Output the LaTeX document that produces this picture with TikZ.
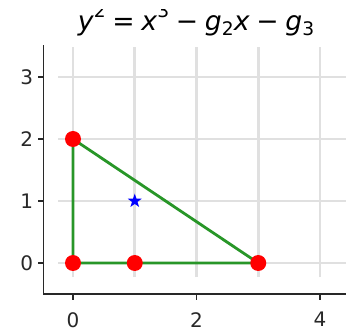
\documentclass[tikz,border=0pt]{standalone}
\usepackage{fontspec}
\setmainfont{DejaVu Sans}
\usetikzlibrary{shapes.geometric}
\definecolor{gridc}{RGB}{224,224,224}
\definecolor{spinec}{RGB}{40,40,40}
\definecolor{trig}{RGB}{40,150,40}
\newcommand{\opsp}{\hspace{0.25em}}
\newcommand{\supr}[1]{\raisebox{0.47em}{\fontsize{14}{14}\selectfont #1}}
\newcommand{\subr}[1]{\raisebox{-0.17em}{\fontsize{14}{14}\selectfont #1}}
\tikzset{
  gridline/.style={draw=gridc, line width=2.2pt},
  spine/.style={draw=spinec, line width=1pt},
  tickmark/.style={draw=spinec, line width=0.9pt},
  ticklabel/.style={font=\fontsize{15}{15}\selectfont, text=spinec, inner sep=0pt},
  reddot/.style={circle, fill=red, minimum size=12pt, inner sep=0pt},
  bluestar/.style={star, star points=5, star point ratio=2.5, fill=blue, minimum size=11pt, inner sep=0pt},
  edge/.style={draw=trig, line width=2.1pt}
}
\begin{document}
\begin{tikzpicture}[x=0.75pt, y=-0.75pt]
\useasboundingbox (0,0) rectangle (346,334);
% title (superscripts cut at the top, as in the reference)
\begin{scope}
  \clip (0,10) rectangle (346,50);
  \node[font=\fontsize{20}{20}\selectfont, anchor=base, inner sep=0pt] (title) at (196,30.5)
    {\textit{y}\supr{2}\opsp=\opsp\textit{x}\supr{3}\opsp−\opsp\textit{g}\subr{2}\textit{x}\opsp−\opsp\textit{g}\subr{3}};
\end{scope}
\begin{scope}[shift={(73,263)}, x=46.3125pt, y=46.5pt]
  % grid
  \foreach \i in {0,...,4} \draw[gridline] (\i,-0.23) -- (\i,3.48);
  \foreach \j in {0,...,3} \draw[gridline] (-0.24,\j) -- (4.6,\j);
  % spines
  \coordinate (sTop) at (-0.4737,3.516);
  \coordinate (sCorner) at (-0.4737,-0.5);
  \coordinate (sRight) at (4.6,-0.5);
  \draw[spine] (sTop) -- (sCorner) -- (sRight);
  % ticks
  \foreach \i in {0,2,4} {
    \coordinate (xt\i) at (\i,-0.5);
    \draw[tickmark] (xt\i) -- ++(0,-0.1);
    \node[ticklabel, anchor=north] (xl\i) at (\i,-0.79) {\i};
  }
  \foreach \j in {0,...,3} {
    \coordinate (yt\j) at (-0.4737,\j);
    \draw[tickmark] (yt\j) -- ++(-0.1,0);
    \node[ticklabel, anchor=east] (yl\j) at (-0.64,\j) {\j};
  }
  % triangle
  \coordinate (A) at (0,0);
  \coordinate (B) at (3,0);
  \coordinate (C) at (0,2);
  \draw[edge] (A) -- (B) -- (C) -- cycle;
  % points
  \node[reddot] (p00) at (0,0) {};
  \node[reddot] (p10) at (1,0) {};
  \node[reddot] (p30) at (3,0) {};
  \node[reddot] (p02) at (0,2) {};
  \node[bluestar] (star) at (1,1) {};
\end{scope}
\end{tikzpicture}
\end{document}
